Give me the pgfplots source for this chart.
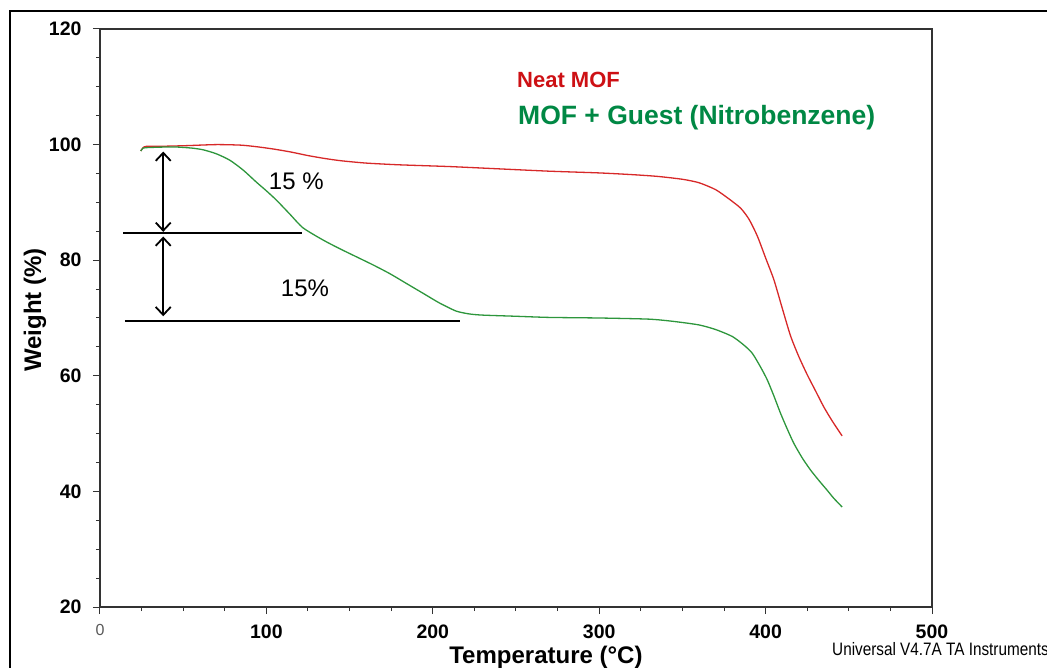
\documentclass[border=0pt]{standalone}
\usepackage{pgfplots}
\pgfplotsset{compat=1.18}
\usepackage{fontspec}
\setmainfont{Liberation Sans}
\usetikzlibrary{arrows.meta}
\definecolor{redtxt}{RGB}{205,16,20}
\definecolor{greentxt}{RGB}{0,136,68}
\definecolor{redline}{RGB}{215,40,40}
\definecolor{greenline}{RGB}{45,150,60}

\pgfplotstableread{
x y
24.5 98.9
26 99.5
28 99.7
35 99.7
50 99.8
70 100.0
85 99.9
95 99.6
105 99.2
115 98.7
125 98.1
135 97.6
145 97.2
160 96.8
180 96.5
210 96.2
240 95.8
270 95.4
300 95.1
320 94.8
335 94.5
350 94.0
360 93.4
370 92.2
378 90.6
385 89.0
390 87.1
395 84.2
400 80.4
405 76.6
410 71.7
415 66.9
420 63.3
425 60.2
430 57.4
435 54.6
440 52.2
446 49.6
}\neat

\pgfplotstableread{
x y
24.5 98.9
26 99.4
30 99.5
44 99.6
55 99.4
62 99.1
70 98.4
78 97.3
86 95.6
94 93.5
100 92.0
106 90.4
114 88.0
122 85.6
134 83.5
144 82.0
154 80.6
164 79.2
174 77.7
184 76.0
194 74.3
204 72.6
214 71.2
222 70.7
230 70.5
250 70.3
270 70.1
300 70.0
330 69.8
345 69.4
360 68.8
370 68.0
380 66.8
387 65.3
392 63.9
397 61.5
401 59.3
405 56.5
409 53.5
413 50.8
417 48.3
422 45.8
427 43.7
432 41.9
437 40.2
441 38.8
446 37.3
}\guest

\begin{document}
\begin{tikzpicture}
\useasboundingbox (-100pt,-60pt) rectangle (947pt,607pt);
\draw[line width=2.5pt] (-90pt,-62pt) -- (-90pt,596pt) -- (949pt,596pt);
\begin{axis}[
  at={(0,0)}, anchor=south west,
  scale only axis, width=832pt, height=578pt,
  xmin=0, xmax=500, ymin=20, ymax=120,
  xtick={0,100,...,500}, ytick={20,40,...,120},
  xticklabels={{\raisebox{4pt}{\fontsize{16}{16}\selectfont\mdseries\color{black!65}0}},100,200,300,400,500},
  minor x tick num=3, minor y tick num=3,
  tick align=outside, tick pos=left,
  major tick length=7pt, minor tick length=4pt,
  every tick/.style={black!80, line width=1pt},
  axis line style={black!80, line width=1.2pt},
  /pgf/number format/assume math mode=true,
  tick label style={font=\fontsize{19.5}{19.5}\selectfont\bfseries},
  xticklabel style={yshift=-7pt},
  yticklabel style={xshift=-8pt},
  every axis y label/.style={at={([xshift=-65pt]rel axis cs:0,0.514)}, rotate=90, anchor=center},
  every axis x label/.style={at={([yshift=-50pt]rel axis cs:0.536,0)}, anchor=center},
  ylabel={\fontsize{24}{24}\selectfont\bfseries Weight (\%)},
  xlabel={\fontsize{24}{24}\selectfont\bfseries Temperature (°C)},
  clip=false,
]
\addplot[redline, line width=1.3pt, no markers, smooth, tension=0.4] table[x=x,y=y] {\neat};
\addplot[greenline, line width=1.3pt, no markers, smooth, tension=0.4] table[x=x,y=y] {\guest};

\draw[line width=2.3pt] (axis cs:14,84.65) -- (axis cs:121.2,84.65);
\draw[line width=2.3pt] (axis cs:15,69.5) -- (axis cs:216.3,69.5);
\draw[line width=1.8pt, {Straight Barb[length=8pt,width=15pt]}-{Straight Barb[length=8pt,width=15pt]}] (axis cs:38,98.8) -- (axis cs:38,84.9);
\draw[line width=1.8pt, {Straight Barb[length=8pt,width=15pt]}-{Straight Barb[length=8pt,width=15pt]}] (axis cs:38,84.1) -- (axis cs:38,70.3);

\node[font=\fontsize{24}{24}\selectfont] at (axis cs:118,93.6) {15 \%};
\node[font=\fontsize{24}{24}\selectfont] at (axis cs:123.2,75.1) {15\%};

\node[anchor=west, inner sep=0pt, text=redtxt, font=\fontsize{22}{22}\selectfont\bfseries] at (axis cs:250.6,111.2) {Neat MOF};
\node[anchor=west, inner sep=0pt, text=greentxt, font=\fontsize{26.5}{26.5}\selectfont\bfseries] at (axis cs:251.2,104.6) {MOF + Guest (Nitrobenzene)};

\node[anchor=west, inner sep=0pt, font=\fontsize{18}{18}\selectfont] at (rel axis cs:0,0) [xshift=732pt, yshift=-42pt] {\scalebox{0.85}[1]{Universal V4.7A TA Instruments}};
\end{axis}
\end{tikzpicture}
\end{document}
